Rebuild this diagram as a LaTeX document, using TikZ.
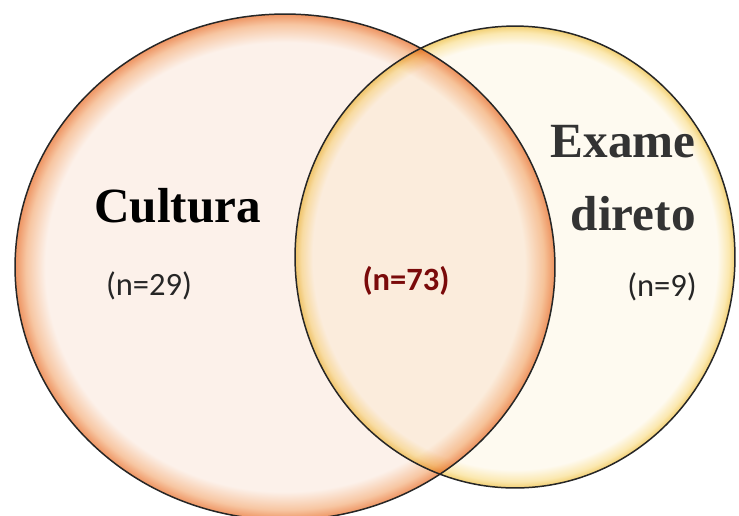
\documentclass[tikz,border=0pt]{standalone}
\usepackage{fontspec}
\setmainfont{Liberation Serif}
\newfontfamily\calibri{Carlito}
\usetikzlibrary{positioning}
\definecolor{cultin}{HTML}{FCF1EA}
\definecolor{cultmid}{HTML}{F7C6A2}
\definecolor{cultedge}{HTML}{EE9462}
\definecolor{examin}{HTML}{FEFAF0}
\definecolor{exammid}{HTML}{FBE8B0}
\definecolor{examedge}{HTML}{F2CF72}
\definecolor{bothred}{HTML}{7A0A0A}
\pgfdeclareradialshading{cultglow}{\pgfpoint{0cm}{0cm}}{color(0bp)=(cultin); color(22.2bp)=(cultin); color(24bp)=(cultmid); color(25bp)=(cultedge); color(50bp)=(cultedge)}
\pgfdeclareradialshading{examglow}{\pgfpoint{0cm}{0cm}}{color(0bp)=(examin); color(23bp)=(examin); color(24.3bp)=(exammid); color(25bp)=(examedge); color(50bp)=(examedge)}
\begin{document}
\begin{tikzpicture}[x=0.02cm, y=-0.02cm]
    % Define styles
    \tikzstyle{rim} = [draw=black!85, line width=0.85pt]
    \tikzstyle{title} = [font=\fontsize{28}{30}\selectfont\bfseries, inner sep=0pt]
    \tikzstyle{count} = [font=\calibri\fontsize{18.5}{20}\selectfont, inner sep=0pt, text=black!85]

    \useasboundingbox (0,0) rectangle (739,515);
    \fill[white] (0,0) rectangle (739,515);

    % Sets
    \coordinate (cultura) at (285,267);
    \coordinate (exame) at (515,257);
    \shade[shading=cultglow] (cultura) ellipse [x radius=5.4cm, y radius=5.06cm];
    \shade[shading=examglow, blend mode=multiply] (exame) ellipse [x radius=4.4cm, y radius=4.62cm];
    \draw[rim] (cultura) ellipse [x radius=5.4cm, y radius=5.06cm];
    \draw[rim] (exame) ellipse [x radius=4.4cm, y radius=4.62cm];

    % Labels
    \node (culturalbl) [title, anchor=base] at (177.5,222) {Cultura};
    \node (examelbl) [title, anchor=base east, text=black!80] at (696,157) {Exame};
    \node (diretolbl) [title, anchor=base east, text=black!80] at (696,230) {direto};
    \node (n29) [count] at (149,286) {(n=29)};
    \node (n73) [count, font=\calibri\bfseries\fontsize{18.5}{20}\selectfont, text=bothred] at (406,281) {(n=73)};
    \node (n9) [count] at (662,287) {(n=9)};
\end{tikzpicture}
\end{document}
